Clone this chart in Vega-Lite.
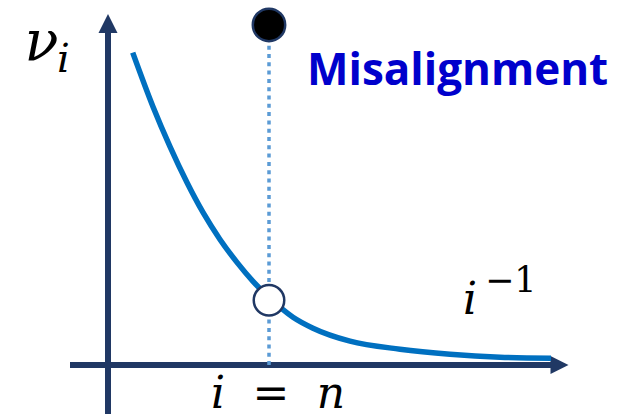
{
  "$schema": "https://vega.github.io/schema/vega-lite/v6.json",
  "width": 627,
  "height": 417,
  "autosize": {"type": "fit", "contains": "padding"},
  "padding": 0,
  "background": "white",
  "config": {"view": {"stroke": null}},
  "encoding": {
    "x": {"field": "x", "type": "quantitative", "scale": {"domain": [-108, 519], "nice": false, "zero": false}, "axis": null},
    "y": {"field": "y", "type": "quantitative", "scale": {"domain": [-51, 366], "nice": false, "zero": false}, "axis": null}
  },
  "layer": [
    {
      "description": "axis shafts",
      "data": {"values": [
        {"x": 0, "y": -49, "x2": 0, "y2": 334},
        {"x": -38, "y": 0, "x2": 445, "y2": 0}
      ]},
      "mark": {"type": "rule", "color": "#203864", "strokeWidth": 6, "strokeCap": "butt"},
      "encoding": {"x2": {"field": "x2"}, "y2": {"field": "y2"}}
    },
    {
      "description": "arrow head of the vertical axis",
      "data": {"values": [{"x": 0, "y": 342.5}]},
      "mark": {"type": "point", "shape": "M0,-1L1,1L-1,1Z", "filled": true, "size": 361, "color": "#203864", "strokeWidth": 0, "opacity": 1}
    },
    {
      "description": "arrow head of the horizontal axis",
      "data": {"values": [{"x": 451.5, "y": 0}]},
      "mark": {"type": "point", "shape": "M1,0L-1,-1L-1,1Z", "filled": true, "size": 324, "color": "#203864", "strokeWidth": 0, "opacity": 1}
    },
    {
      "description": "dotted marker at i = n",
      "data": {"values": [{"x": 161, "y": 0, "y2": 321}]},
      "mark": {"type": "rule", "color": "#5b9bd5", "strokeWidth": 3.5, "strokeDash": [4, 4.3], "strokeCap": "butt"},
      "encoding": {"y2": {"field": "y2"}}
    },
    {
      "description": "decay curve i^-1",
      "data": {"values": [
        {"x": 24.7, "y": 313.3},
        {"x": 45, "y": 259},
        {"x": 62, "y": 219},
        {"x": 79, "y": 183},
        {"x": 95, "y": 153},
        {"x": 112, "y": 126},
        {"x": 129, "y": 103},
        {"x": 145, "y": 84},
        {"x": 162, "y": 67},
        {"x": 185, "y": 48},
        {"x": 205, "y": 37},
        {"x": 242, "y": 24},
        {"x": 292, "y": 16},
        {"x": 342, "y": 11},
        {"x": 392, "y": 8},
        {"x": 443, "y": 7}
      ]},
      "mark": {"type": "line", "color": "#0070c0", "strokeWidth": 5.5, "interpolate": "monotone", "strokeCap": "butt"}
    },
    {
      "description": "misaligned value",
      "data": {"values": [{"x": 161, "y": 341}]},
      "mark": {"type": "point", "shape": "circle", "filled": true, "fill": "#000000", "stroke": "#203864", "strokeWidth": 2.5, "size": 1050, "opacity": 1}
    },
    {
      "description": "value on the curve",
      "data": {"values": [{"x": 161, "y": 65}]},
      "mark": {"type": "point", "shape": "circle", "filled": true, "fill": "#ffffff", "stroke": "#203864", "strokeWidth": 2.5, "size": 930, "opacity": 1}
    },
    {
      "data": {"values": [{"label": "ν", "x": -66.5, "y": 306}]},
      "mark": {"type": "text", "font": "DejaVu Serif", "fontStyle": "italic", "fontSize": 56, "align": "center", "baseline": "alphabetic", "color": "#000000"},
      "encoding": {"text": {"field": "label"}}
    },
    {
      "data": {"values": [{"label": "i", "x": -44.5, "y": 294}]},
      "mark": {"type": "text", "font": "DejaVu Serif", "fontStyle": "italic", "fontSize": 40, "align": "center", "baseline": "alphabetic", "color": "#000000"},
      "encoding": {"text": {"field": "label"}}
    },
    {
      "data": {"values": [{"label": "i", "x": 362, "y": 51}]},
      "mark": {"type": "text", "font": "DejaVu Serif", "fontStyle": "italic", "fontSize": 44, "align": "center", "baseline": "alphabetic", "color": "#000000"},
      "encoding": {"text": {"field": "label"}}
    },
    {
      "data": {"values": [{"label": "−1", "x": 377, "y": 73}]},
      "mark": {"type": "text", "font": "DejaVu Serif", "fontSize": 35, "align": "left", "baseline": "alphabetic", "color": "#000000"},
      "encoding": {"text": {"field": "label"}}
    },
    {
      "data": {"values": [
        {"label": "i", "x": 110, "y": -43},
        {"label": "n", "x": 223, "y": -43}
      ]},
      "mark": {"type": "text", "font": "DejaVu Serif", "fontStyle": "italic", "fontSize": 44, "align": "center", "baseline": "alphabetic", "color": "#000000"},
      "encoding": {"text": {"field": "label"}}
    },
    {
      "data": {"values": [{"label": "=", "x": 163, "y": -43}]},
      "mark": {"type": "text", "font": "DejaVu Serif", "fontSize": 44, "align": "center", "baseline": "alphabetic", "color": "#000000"},
      "encoding": {"text": {"field": "label"}}
    },
    {
      "data": {"values": [{"label": "Misalignment", "x": 199, "y": 281}]},
      "mark": {"type": "text", "font": "Open Sans", "fontWeight": "bold", "fontSize": 44, "align": "left", "baseline": "alphabetic", "color": "#0000cc"},
      "encoding": {"text": {"field": "label"}}
    }
  ]
}
